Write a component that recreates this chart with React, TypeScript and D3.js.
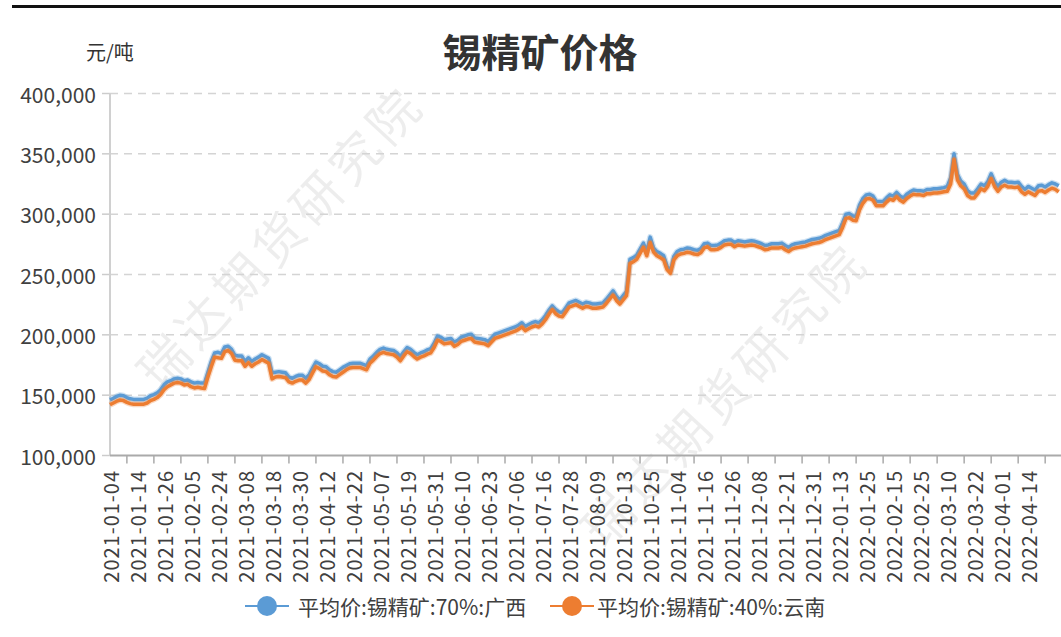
import React from "react";
import * as d3 from "d3";

// 平均价:锡精矿:70%:广西 (元/吨), one value per trading day from 2021-01-04
const guangxi70 = [
  146000, 147500, 149000, 150000, 149500, 148000, 147000, 146500, 146500, 146500,
  146500, 147500, 149500, 150500, 152000, 154500, 158500, 161000, 162000, 163500,
  164000, 163500, 162000, 162500, 161000, 160000, 160500, 160000, 160000, 169000,
  178000, 185000, 185500, 184500, 190000, 190500, 188000, 183000, 182500, 182500,
  178000, 181000, 178000, 180000, 181500, 183500, 182000, 180500, 168500, 169000,
  169500, 169000, 168500, 165000, 164000, 165500, 166500, 166500, 164000, 167000,
  172500, 177500, 176000, 174000, 173500, 171000, 169500, 169000, 171000, 173000,
  174500, 176000, 176500, 176500, 176500, 175500, 174500, 180000, 182500, 185500,
  188000, 189000, 188000, 187500, 187000, 185000, 182000, 186000, 189500, 188000,
  185500, 183500, 185000, 186000, 187500, 188500, 193000, 199000, 198000, 196000,
  196500, 197000, 194000, 195500, 198000, 199000, 200000, 200500, 197500, 197000,
  196500, 196000, 194500, 197500, 200500, 201500, 202500, 203500, 204500, 205500,
  206500, 208000, 210000, 207000, 208500, 210000, 211000, 210000, 212500, 216000,
  220500, 224000, 221000, 219000, 218500, 222500, 226500, 227500, 228500, 227000,
  225500, 227000, 226500, 225500, 225500, 226000, 226500, 229500, 233000, 236500,
  232000, 229000, 232500, 236000, 262500, 264000, 266000, 271000, 276000, 269000,
  281000, 272000, 269000, 267500, 265500, 257000, 252500, 265000, 269000, 270500,
  271000, 272000, 271500, 270500, 270000, 271500, 275500, 276000, 274000, 274000,
  274500, 276000, 278000, 278500, 278500, 276500, 278000, 277500, 277000, 277500,
  278000, 277500, 276500, 275500, 274000, 274500, 275500, 275500, 275500, 276000,
  274000, 272500, 274500, 275500, 276000, 276500, 277000, 278000, 279000, 279500,
  280000, 281000, 282500, 283500, 284500, 285500, 286500, 293000, 300000, 300500,
  298500, 298000, 307500, 313000, 316000, 316500, 315000, 310500, 310500, 310500,
  313500, 316000, 315000, 318000, 315000, 313500, 316500, 318500, 320000, 319500,
  319500, 319000, 320500, 320500, 321000, 321000, 321500, 322000, 323000, 330000,
  350000, 333000, 327500, 325000, 319500, 317500, 317500, 321000, 325000, 323500,
  327000, 333500, 327000, 323000, 326500, 328000, 326500, 326500, 326000, 326500,
  323000, 320500, 323000, 321500, 320000, 323500, 324000, 322500, 324500, 326000,
  325000, 323500,
];

// 平均价:锡精矿:40%:云南 (元/吨)
const yunnan40 = [
  142000, 143500, 145000, 146000, 145500, 144000, 143000, 142500, 142500, 142500,
  142500, 143500, 145500, 146500, 148000, 150500, 154500, 157000, 158500, 160000,
  160500, 160000, 158500, 159000, 157000, 156000, 156500, 156000, 155500, 165000,
  173500, 181500, 181000, 180500, 186000, 187000, 184500, 179000, 178500, 178500,
  174000, 177000, 174000, 176000, 177500, 179500, 178000, 176500, 163500, 165000,
  165500, 165000, 164500, 161000, 160000, 161500, 162500, 162500, 160000, 163000,
  168500, 173500, 172000, 170000, 169500, 167000, 165500, 165000, 167000, 169000,
  171000, 172500, 173000, 173000, 173000, 172000, 171000, 176500, 179000, 182000,
  184500, 185500, 184500, 184000, 183500, 181500, 178500, 182500, 186000, 184500,
  182000, 180000, 181500, 182500, 184000, 185000, 189500, 195500, 194500, 192500,
  193000, 193500, 190500, 192000, 194500, 195500, 196500, 197000, 194000, 193500,
  193000, 192500, 191000, 194000, 197000, 198000, 199000, 200000, 201000, 202000,
  203000, 204500, 206500, 203500, 205000, 206500, 207500, 206500, 209000, 212500,
  217000, 221000, 217500, 215500, 215000, 219000, 223000, 224000, 225000, 223500,
  222000, 223500, 223000, 222000, 222000, 222500, 223000, 226000, 229500, 233000,
  228500, 225500, 229000, 232500, 259000, 260500, 262500, 267500, 272500, 265500,
  276500, 268500, 265500, 264000, 262000, 254000, 251000, 262000, 265500, 267000,
  267500, 268500, 268000, 267000, 266500, 268000, 272000, 273000, 270500, 270500,
  271000, 272500, 274500, 275000, 275000, 273000, 274500, 274000, 273500, 274000,
  274500, 274000, 273000, 272000, 270500, 271000, 272000, 272000, 272000, 272500,
  270500, 269000, 271000, 272000, 272500, 273000, 273500, 274500, 275500, 276000,
  276500, 277500, 279000, 280000, 281000, 282000, 283000, 289000, 296500, 297000,
  295000, 294500, 303500, 309000, 312500, 313000, 311500, 307000, 307000, 307000,
  310000, 312500, 311500, 314500, 311500, 310000, 313000, 315000, 316500, 316000,
  316000, 315500, 317000, 317000, 317500, 317500, 318000, 318500, 319000, 325000,
  345500, 328500, 323500, 321000, 315500, 313500, 313500, 317000, 321000, 319500,
  323000, 329500, 323000, 319000, 322500, 324000, 322500, 322500, 322000, 322500,
  318500, 316500, 318500, 317000, 315500, 319000, 319500, 318000, 320000, 321500,
  320500, 318500,
];

// axis labels, shown every 8th trading day
const dateLabels = [
  "2021-01-04", "2021-01-14", "2021-01-26", "2021-02-05", "2021-02-24", "2021-03-08",
  "2021-03-18", "2021-03-30", "2021-04-12", "2021-04-22", "2021-05-07", "2021-05-19",
  "2021-05-31", "2021-06-10", "2021-06-23", "2021-07-06", "2021-07-16", "2021-07-28",
  "2021-08-09", "2021-10-13", "2021-10-25", "2021-11-04", "2021-11-16", "2021-11-26",
  "2021-12-08", "2021-12-21", "2021-12-31", "2022-01-13", "2022-01-25", "2022-02-15",
  "2022-02-25", "2022-03-10", "2022-03-22", "2022-04-01", "2022-04-14",
];
const labelStep = 8;
const yTicks = [100000, 150000, 200000, 250000, 300000, 350000, 400000];

const seriesNames = ["平均价:锡精矿:70%:广西", "平均价:锡精矿:40%:云南"];
const colors = ["#5b9bd5", "#ed7d31"];

const W = 1061;
const H = 637;
const FONT = '"Noto Sans CJK SC", "Noto Sans", sans-serif';

export default function App() {
  const left = 110;
  const x = d3
    .scaleLinear()
    .domain([0, (dateLabels.length - 1) * labelStep])
    .range([left, 1028.3]);
  const y = d3.scaleLinear().domain([100000, 400000]).range([455.5, 93.5]);
  const fmt = d3.format(",");

  const line = d3
    .line<number>()
    .x((_, i) => x(i))
    .y((d) => y(d));

  // ticks sit a few days ahead of each label, as in the source chart
  const tickIdx = d3
    .range(1, dateLabels.length + 1)
    .map((k) => k * labelStep - 3)
    .filter((i) => i < guangxi70.length);

  const series = [guangxi70, yunnan40];

  return (
    <svg
      width={W}
      height={H}
      style={{ position: "absolute", left: 0, top: 0, background: "#fff" }}
      fontFamily={FONT}
    >
      <line x1={12} x2={W} y1={6.5} y2={6.5} stroke="#111" strokeWidth={3} />

      {/* watermark */}
      {[
        [278, 235],
        [722, 392],
      ].map(([cx, cy], i) => (
        <text
          key={i}
          transform={`translate(${cx},${cy}) rotate(-47)`}
          textAnchor="middle"
          dominantBaseline="central"
          fontSize={50}
          letterSpacing={6}
          fill="#000"
          fillOpacity={0.07}
        >
          瑞达期货研究院
        </text>
      ))}

      <text x={540} y={67} textAnchor="middle" fontSize={39} fontWeight="bold" fill="#333">
        锡精矿价格
      </text>
      <text x={86} y={60} fontSize={20} fill="#333">
        元/吨
      </text>

      {yTicks.map((t) => (
        <g key={t}>
          {t > 100000 && (
            <line
              x1={left}
              x2={W}
              y1={y(t)}
              y2={y(t)}
              stroke="#d4d4d4"
              strokeWidth={1.5}
              strokeDasharray="8 6"
            />
          )}
          <line x1={left - 8} x2={left} y1={y(t)} y2={y(t)} stroke="#ccc" strokeWidth={1.5} />
          <text
            x={96}
            y={y(t)}
            textAnchor="end"
            dominantBaseline="central"
            fontSize={21}
            fill="#404040"
          >
            {fmt(t)}
          </text>
        </g>
      ))}
      <line x1={left} x2={left} y1={y(400000)} y2={y(100000)} stroke="#d0d0d0" strokeWidth={2} />

      <line x1={left} x2={W} y1={y(100000)} y2={y(100000)} stroke="#aaa" strokeWidth={2} />
      {tickIdx.map((i) => (
        <line key={i} x1={x(i)} x2={x(i)} y1={y(100000)} y2={y(100000) + 8} stroke="#aaa" strokeWidth={1.5} />
      ))}
      {dateLabels.map((d, k) => (
        <text
          key={d}
          transform={`translate(${x(k * labelStep)},${470}) rotate(-90)`}
          textAnchor="end"
          dominantBaseline="central"
          fontSize={20}
          letterSpacing={1}
          fill="#404040"
        >
          {d}
        </text>
      ))}

      {series.map((s, k) => (
        <g key={k}>
          <path d={line(s) ?? ""} fill="none" stroke={colors[k]} strokeOpacity={0.3} strokeWidth={6} strokeLinejoin="round" />
          <path d={line(s) ?? ""} fill="none" stroke={colors[k]} strokeWidth={3.5} strokeLinejoin="round" />
        </g>
      ))}

      {seriesNames.map((name, k) => {
        const lx = k === 0 ? 245 : 550;
        return (
          <g key={name} transform={`translate(${lx},606)`}>
            <line x1={0} x2={44} y1={0} y2={0} stroke={colors[k]} strokeWidth={2} />
            <circle cx={22} cy={0} r={10} fill={colors[k]} />
            <text x={k === 0 ? 53 : 47} y={0} dominantBaseline="central" fontSize={21} fill="#404040">
              {name}
            </text>
          </g>
        );
      })}
    </svg>
  );
}
